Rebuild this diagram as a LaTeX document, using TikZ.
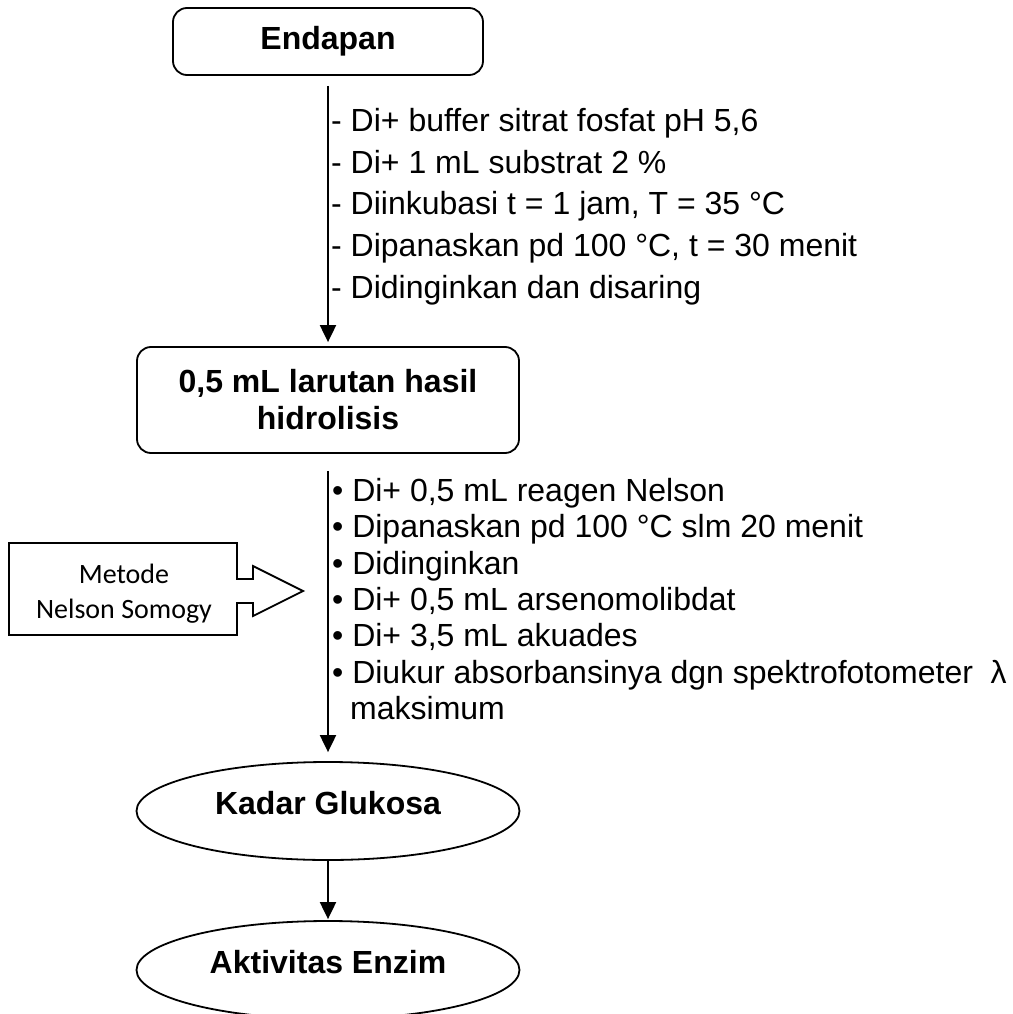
\documentclass[tikz,border=0pt]{standalone}
\usepackage{fontspec}
\setmainfont{Liberation Sans}
\newfontfamily\calibri{Carlito}
\usetikzlibrary{shapes.geometric,arrows.meta}
\tikzstyle{every node}=[inner sep=0pt]
\tikzstyle{kotak}=[draw,line width=1.8pt,rounded corners=14pt,align=center,font=\bfseries\fontsize{32}{37}\selectfont]
\tikzstyle{elips}=[draw,ellipse,line width=1.8pt,minimum width=383pt,minimum height=98pt,text depth=16pt,font=\bfseries\fontsize{32}{37}\selectfont]
\tikzstyle{panah}=[line width=2pt,-{Triangle[width=16pt,length=17pt]}]
\tikzstyle{langkah}=[anchor=base west,font=\fontsize{32}{37}\selectfont]

\begin{document}
\begin{tikzpicture}[x=1pt,y=-1pt]
 \useasboundingbox (0,0) rectangle (1012,1014);
 \fill[white] (0,0) rectangle (1012,1014);
 \node[kotak,minimum width=310pt,minimum height=67pt] (endapan) at (328,41.5) {Endapan};
 \node[kotak,minimum width=382pt,minimum height=106pt] (hasil) at (328,400) {0,5 mL larutan hasil\\hidrolisis};
 \node[elips] (kadar) at (328,811) {Kadar Glukosa};
 \node[elips] (aktivitas) at (328,970) {Aktivitas Enzim};
 \draw[panah,shorten <=10pt,shorten >=4pt] (endapan.south) -- (hasil.north);
 \draw[panah,shorten <=17pt,shorten >=9pt] (hasil.south) -- (kadar.north);
 \draw[panah,shorten >=1pt] (kadar.south) -- (aktivitas.north);
 \foreach \teks [count=\i] in {{Di+ buffer sitrat fosfat pH 5,6},{Di+ 1 mL substrat 2 \%},{Diinkubasi t = 1 jam, T = 35 °C},{Dipanaskan pd 100 °C, t = 30 menit},{Didinginkan dan disaring}}
  \node[langkah] (langkah\i) at (331,{131.5+41.7*(\i-1)}) {- \teks};
 \foreach \teks [count=\i] in {{Di+ 0,5 mL reagen Nelson},{Dipanaskan pd 100 °C slm 20 menit},{Didinginkan},{Di+ 0,5 mL arsenomolibdat},{Di+ 3,5 mL akuades},{Diukur absorbansinya dgn spektrofotometer~~λ}}
  \node[langkah] (uji\i) at (332,{501.5+36.33*(\i-1)}) {• \teks};
 \node[langkah] (maks) at (350,719.5) {maksimum};
 \draw[line width=1.8pt] (9,543) -- (237,543) -- (237,579) -- (253,579) -- (253,566) -- (303,591) -- (253,616) -- (253,603) -- (237,603) -- (237,635) -- (9,635) -- cycle;
 \node[align=center,font=\calibri\fontsize{28}{35}\selectfont] (metode) at (124,594) {Metode\\Nelson Somogy};
\end{tikzpicture}
\end{document}
